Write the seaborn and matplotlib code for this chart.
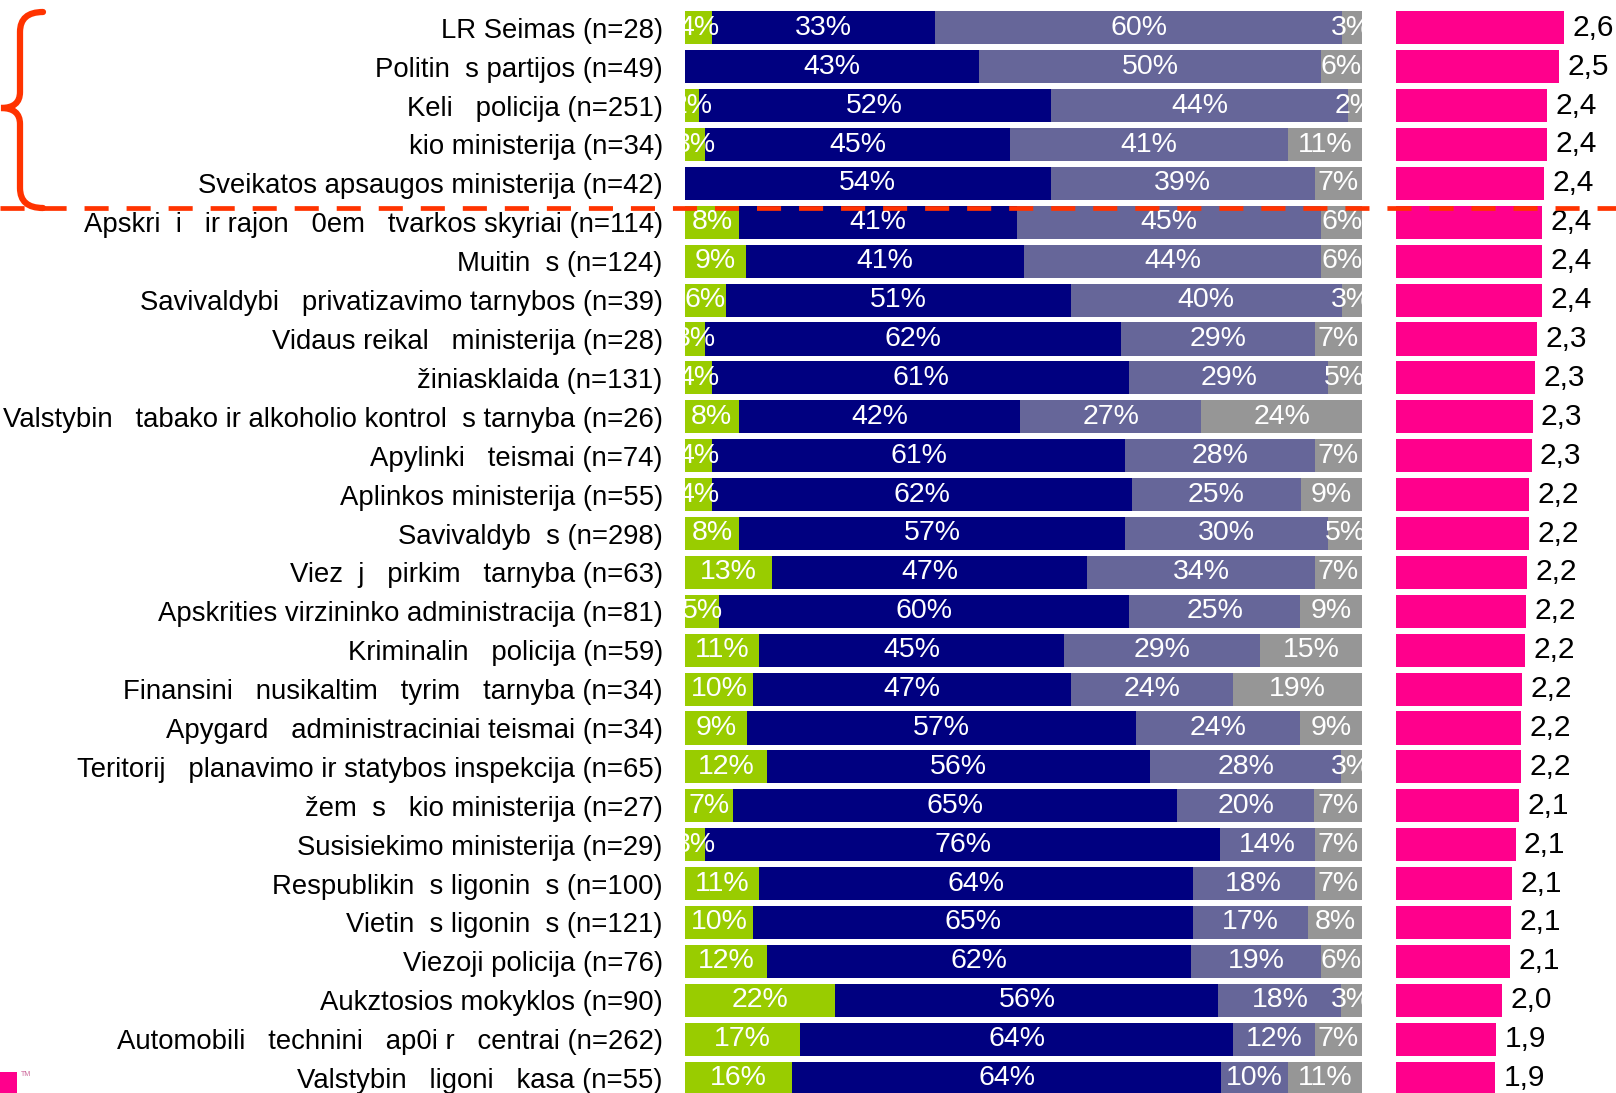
import matplotlib
matplotlib.use("Agg")
import matplotlib.pyplot as plt
from matplotlib.path import Path
from matplotlib.patches import PathPatch, Rectangle
import seaborn as sns
import numpy as np
import pandas as pd

# institution labels (as they appear, missing glyphs left as blanks)
institutions = [
    "LR Seimas (n=28)",
    "Politin  s partijos (n=49)",
    "Keli   policija (n=251)",
    "kio ministerija (n=34)",
    "Sveikatos apsaugos ministerija (n=42)",
    "Apskri  i   ir rajon   0em   tvarkos skyriai (n=114)",
    "Muitin  s (n=124)",
    "Savivaldybi   privatizavimo tarnybos (n=39)",
    "Vidaus reikal   ministerija (n=28)",
    "žiniasklaida (n=131)",
    "Valstybin   tabako ir alkoholio kontrol  s tarnyba (n=26)",
    "Apylinki   teismai (n=74)",
    "Aplinkos ministerija (n=55)",
    "Savivaldyb  s (n=298)",
    "Viez  j   pirkim   tarnyba (n=63)",
    "Apskrities virzininko administracija (n=81)",
    "Kriminalin   policija (n=59)",
    "Finansini   nusikaltim   tyrim   tarnyba (n=34)",
    "Apygard   administraciniai teismai (n=34)",
    "Teritorij   planavimo ir statybos inspekcija (n=65)",
    "žem  s   kio ministerija (n=27)",
    "Susisiekimo ministerija (n=29)",
    "Respublikin  s ligonin  s (n=100)",
    "Vietin  s ligonin  s (n=121)",
    "Viezoji policija (n=76)",
    "Aukztosios mokyklos (n=90)",
    "Automobili   technini   ap0i r   centrai (n=262)",
    "Valstybin   ligoni   kasa (n=55)",
]

pct_green = [4, 0, 2, 3, 0, 8, 9, 6, 3, 4, 8, 4, 4, 8, 13, 5, 11, 10, 9, 12, 7, 3, 11, 10, 12, 22, 17, 16]
pct_navy = [33, 43, 52, 45, 54, 41, 41, 51, 62, 61, 42, 61, 62, 57, 47, 60, 45, 47, 57, 56, 65, 76, 64, 65, 62, 56, 64, 64]
pct_slate = [60, 50, 44, 41, 39, 45, 44, 40, 29, 29, 27, 28, 25, 30, 34, 25, 29, 24, 24, 28, 20, 14, 18, 17, 19, 18, 12, 10]
pct_gray = [3, 6, 2, 11, 7, 6, 6, 3, 7, 5, 24, 7, 9, 5, 7, 9, 15, 19, 9, 3, 7, 7, 7, 8, 6, 3, 7, 11]

scores = [2.57, 2.52, 2.41, 2.41, 2.38, 2.36, 2.36, 2.36, 2.31, 2.29, 2.27, 2.26, 2.24, 2.24,
          2.22, 2.21, 2.20, 2.17, 2.16, 2.16, 2.14, 2.11, 2.08, 2.07, 2.06, 1.98, 1.93, 1.92]

cols = ["green", "navy", "slate", "gray"]
colors = {"green": "#99CC00", "navy": "#000080", "slate": "#666699", "gray": "#969696"}
pink = "#FF008C"
red = "#FF3300"

sns.set_theme(style="white")
narrow = ["Liberation Sans Narrow", "Liberation Sans", "DejaVu Sans"]
plt.rcParams["font.family"] = narrow

W, H = 1616, 1093
fig = plt.figure(figsize=(W / 100, H / 100), dpi=100)

# row layout in pixels
first, pitch = 27.8, 38.9
ylim = ((H - first) / pitch, -first / pitch)

df = pd.DataFrame({"institution": institutions, "green": pct_green, "navy": pct_navy,
                   "slate": pct_slate, "gray": pct_gray, "score": scores})
shares = df[cols].div(df[cols].sum(axis=1), axis=0) * 100
cum = shares.cumsum(axis=1)
cum["institution"] = df["institution"]

# stacked percentage bars
ax = fig.add_axes([685 / W, 0, (1362 - 685) / W, 1])
for col in reversed(cols):
    sns.barplot(data=cum, x=col, y="institution", color=colors[col], saturation=1,
                width=0.85, linewidth=0, orient="h", ax=ax)

for i in range(len(df)):
    left = 0
    for col in cols:
        w = shares.loc[i, col]
        if df.loc[i, col] > 0:
            ax.text(left + w / 2, i, "{0}%".format(df.loc[i, col]), ha="center", va="center",
                    color="white", fontsize=20.5, clip_on=True)
        left += w

ax.set_xlim(0, 100)
ax.set_ylim(ylim)
ax.set_xticks([])
ax.set_xlabel("")
ax.set_ylabel("")
ax.tick_params(axis="y", length=0, pad=16, labelsize=19.8, labelcolor="black")
sns.despine(ax=ax, left=True, bottom=True)

# mean score bars
ax2 = fig.add_axes([1396 / W, 0, 220 / W, 1])
sns.barplot(data=df, x="score", y="institution", color=pink, saturation=1,
            width=0.85, linewidth=0, orient="h", ax=ax2)
for i, v in enumerate(df["score"]):
    ax2.annotate("{0:.1f}".format(v).replace(".", ","), (v, i), xytext=(6, 0),
                 textcoords="offset points", ha="left", va="center", fontsize=21.5,
                 family=["Liberation Sans", "DejaVu Sans"], color="black", annotation_clip=False)
ax2.set_xlim(0.985, 3.055)
ax2.set_ylim(ylim)
ax2.axis("off")

# overlay: brace, dashed separator, logo fragment
ov = fig.add_axes([0, 0, 1, 1], zorder=10)
ov.set_xlim(0, W)
ov.set_ylim(H, 0)
ov.axis("off")
ov.patch.set_alpha(0)

verts = [(43, 12), (20, 12), (20, 32), (20, 92), (20, 108), (1, 108),
         (20, 108), (20, 124), (20, 188), (20, 208), (43, 208)]
codes = [Path.MOVETO, Path.CURVE3, Path.CURVE3, Path.LINETO, Path.CURVE3, Path.CURVE3,
         Path.CURVE3, Path.CURVE3, Path.LINETO, Path.CURVE3, Path.CURVE3]
ov.add_patch(PathPatch(Path(verts, codes), fill=False, edgecolor=red, lw=4.5, capstyle="round"))

ov.plot([0, W], [208, 208], color=red, lw=3.4, dashes=(5.1, 3.8), solid_capstyle="butt",
        dash_capstyle="butt")

ov.add_patch(Rectangle((0, 1072), 17, 21, color=pink, lw=0))
ov.text(21, 1071, "TM", fontsize=5, color="#cc6699", ha="left", va="top")

fig.savefig("out.png", dpi=100)
